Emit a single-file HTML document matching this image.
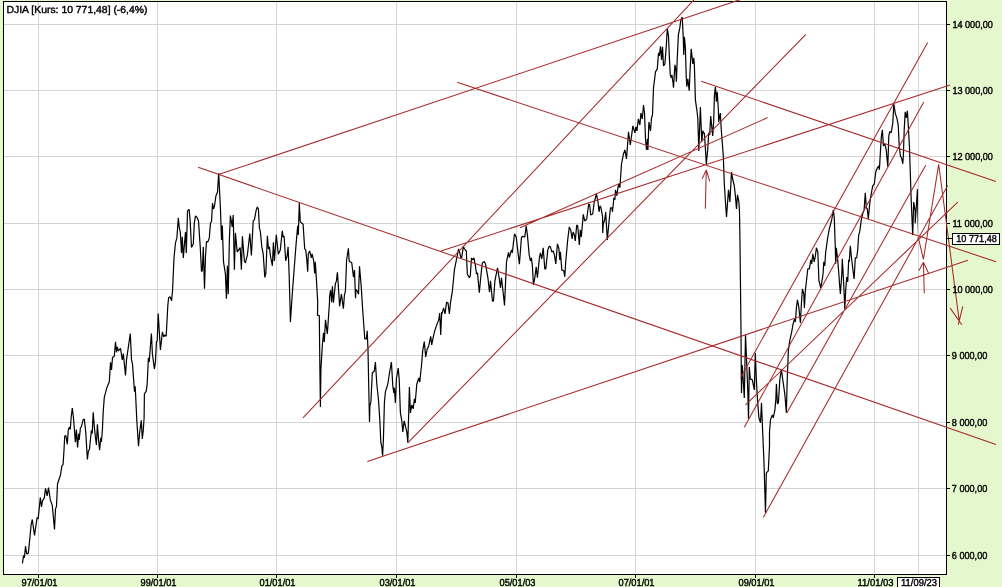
<!DOCTYPE html>
<html><head><meta charset="utf-8"><title>DJIA</title>
<style>
html,body{margin:0;padding:0;background:#e5f7cd;}
body{width:1002px;height:587px;overflow:hidden;}
svg{display:block;}
text{text-rendering:geometricPrecision;font-family:"Liberation Sans",sans-serif;font-size:10.1px;fill:#000;stroke:#000;stroke-width:0.4px;}
</style></head><body>
<svg width="1002" height="587" viewBox="0 0 1002 587">
<rect x="0" y="0" width="1002" height="587" fill="#e5f7cd"/>
<rect x="3" y="1" width="944" height="574" fill="#fff"/>
<path d="M3 24.5 H946 M3 90.5 H946 M3 156.5 H946 M3 223.5 H946 M3 289.5 H946 M3 355.5 H946 M3 422.5 H946 M3 488.5 H946 M3 555.5 H946 M38.5 1 V574 M157.5 1 V574 M276.5 1 V574 M396.5 1 V574 M516.5 1 V574 M635.5 1 V574 M755.5 1 V574 M874.5 1 V574 M918.5 1 V574" stroke="#d4d4d4" stroke-width="1" fill="none" shape-rendering="crispEdges"/>
<rect x="3.5" y="1.5" width="943" height="573" fill="none" stroke="#000" stroke-width="1" shape-rendering="crispEdges"/>
<path d="M22.4 563.4 L23.6 555.4 L24.4 557.8 L25.5 546.2 L26.7 553.8 L28.3 553.4 L29.9 537.9 L31.1 524.9 L32.3 519.5 L34.5 535.5 L35.9 525.9 L37.1 517.5 L38.1 518.9 L39.3 507.9 L40.3 497.5 L41.5 506.9 L42.5 500.9 L44.3 497.9 L45.5 488.4 L47.1 495.9 L48.5 487.6 L50.3 499.9 L52.3 505.5 L54.5 529.5 L55.5 508.9 L56.5 506.3 L57.5 484.0 L59.1 479.0 L60.5 475.0 L61.9 465.9 L63.1 464.3 L63.9 451.9 L64.7 436.3 L65.9 435.5 L67.3 444.3 L68.3 429.9 L69.5 426.9 L70.3 429.5 L71.1 418.0 L72.3 408.0 L73.5 418.0 L75.4 442.3 L76.4 429.5 L77.6 447.5 L78.6 433.9 L79.2 439.9 L80.4 427.9 L81.4 426.9 L83.2 419.4 L84.4 419.4 L85.8 432.9 L87.4 459.5 L88.4 450.9 L89.4 449.9 L91.4 430.3 L92.2 433.5 L93.2 412.4 L94.4 427.9 L95.4 436.9 L96.4 444.9 L97.4 424.4 L98.4 437.9 L99.6 450.3 L100.8 437.9 L101.4 441.9 L102.4 429.9 L103.2 412.0 L104.3 397.4 L106.9 387.4 L109.3 381.8 L110.5 362.3 L111.5 369.9 L112.5 357.5 L114.3 356.3 L115.5 341.9 L116.5 352.3 L117.3 346.9 L118.3 350.9 L120.5 348.3 L122.3 359.9 L123.3 353.5 L125.5 375.4 L126.5 359.9 L130.3 333.5 L131.5 359.9 L132.5 363.9 L134.5 391.8 L135.2 386.2 L136.9 422.0 L138.5 446.3 L139.7 431.9 L141.3 420.4 L142.3 438.9 L143.3 429.9 L144.1 418.0 L144.4 393.8 L146.2 391.4 L147.2 383.8 L148.4 357.9 L149.2 361.9 L151.4 333.5 L152.4 353.9 L153.2 359.9 L154.4 368.9 L155.4 362.3 L156.4 341.9 L157.2 340.9 L158.2 313.6 L160.4 349.9 L162.4 331.9 L163.8 336.9 L164.8 334.9 L166.2 336.3 L167.8 306.0 L168.6 297.8 L170.0 296.8 L171.6 300.8 L172.6 289.8 L174.0 257.9 L175.5 242.9 L176.9 237.9 L178.3 217.9 L179.3 227.9 L180.3 231.9 L181.5 252.9 L182.3 236.9 L183.3 257.9 L185.5 231.9 L186.3 252.9 L187.5 211.0 L189.1 209.4 L190.1 219.9 L191.5 247.5 L193.3 243.9 L194.3 222.9 L195.5 215.9 L197.1 217.5 L198.5 220.9 L200.3 247.9 L201.5 271.4 L202.3 270.8 L203.3 246.9 L204.5 288.8 L205.5 255.9 L206.5 241.5 L207.9 241.9 L209.3 237.9 L210.5 222.9 L211.5 221.9 L212.5 203.0 L213.5 209.0 L214.5 206.0 L215.9 196.0 L217.5 192.0 L218.7 173.4 L220.5 210.0 L221.5 239.9 L222.3 225.5 L223.5 261.9 L225.4 273.8 L226.4 298.8 L227.4 265.8 L228.2 294.2 L229.4 238.9 L230.4 215.5 L232.2 226.9 L233.2 215.0 L234.4 269.8 L235.4 232.9 L237.2 251.9 L240.2 247.5 L241.4 269.8 L242.4 236.3 L244.4 260.9 L245.4 262.9 L247.4 254.9 L249.8 233.5 L251.4 255.5 L253.2 220.9 L254.4 219.9 L256.2 210.0 L257.4 207.0 L258.4 209.0 L259.4 227.9 L260.4 231.9 L261.8 246.9 L263.2 253.9 L264.8 277.4 L265.8 273.8 L267.4 235.9 L268.4 248.9 L269.4 246.9 L270.4 255.9 L272.4 265.8 L273.4 242.3 L274.4 260.9 L276.3 234.9 L278.3 254.3 L280.3 249.9 L282.3 230.9 L283.1 236.9 L284.1 236.3 L285.7 260.9 L287.1 255.9 L288.1 246.9 L289.1 273.8 L289.9 301.8 L290.4 321.9 L292.3 293.8 L294.1 269.8 L296.1 243.9 L297.7 225.9 L298.3 234.9 L299.3 203.0 L300.3 221.9 L303.1 224.3 L304.7 248.9 L305.7 249.9 L306.7 258.9 L307.7 271.8 L308.3 253.9 L309.7 250.9 L311.3 257.9 L312.1 253.9 L313.7 260.9 L314.7 273.4 L315.3 261.9 L316.3 277.8 L317.7 301.8 L317.5 315.5 L319.3 315.5 L319.9 369.8 L320.4 406.9 L320.9 369.8 L322.3 345.9 L323.5 332.9 L324.3 341.9 L325.5 319.9 L327.3 333.9 L327.9 325.9 L329.5 302.0 L329.5 297.2 L330.6 290.2 L331.6 302.2 L332.4 286.3 L333.4 302.7 L335.4 283.6 L336.4 281.1 L337.4 272.3 L338.1 282.1 L339.6 306.2 L341.4 294.2 L343.4 308.7 L344.4 295.2 L345.4 291.2 L346.6 260.0 L348.4 248.4 L349.1 260.0 L349.4 261.5 L351.7 262.5 L353.5 277.1 L354.5 270.1 L355.5 298.2 L356.0 289.6 L357.7 291.7 L358.5 294.2 L359.5 266.2 L361.2 286.1 L362.7 310.3 L364.8 338.9 L366.4 338.9 L367.2 330.9 L368.0 349.9 L368.8 389.8 L369.5 421.9 L369.9 405.9 L370.9 401.9 L372.3 373.0 L374.3 371.0 L375.4 362.0 L376.8 384.0 L378.4 398.9 L379.8 419.9 L380.8 441.8 L381.8 446.8 L382.6 455.8 L383.4 439.8 L384.4 402.9 L385.4 391.9 L387.8 384.0 L389.8 371.0 L391.4 362.0 L392.8 385.9 L393.8 392.9 L394.4 387.9 L395.4 402.9 L396.4 379.0 L398.2 368.0 L399.2 379.0 L400.4 412.9 L401.8 420.9 L402.8 431.9 L404.2 420.9 L405.4 425.9 L406.8 431.9 L407.8 442.8 L408.8 409.9 L409.4 386.9 L410.4 412.9 L411.8 404.9 L413.2 408.9 L414.4 398.9 L415.2 402.9 L416.8 384.0 L418.8 378.0 L419.8 382.0 L421.2 368.0 L421.3 367.8 L422.7 350.9 L424.3 341.5 L425.7 356.9 L427.1 349.5 L428.7 345.9 L430.7 336.3 L431.7 344.9 L433.3 336.9 L434.7 330.9 L437.1 323.9 L438.7 319.9 L439.7 313.0 L440.7 334.9 L441.7 312.0 L441.6 314.8 L443.6 307.8 L445.0 313.8 L446.6 302.2 L448.0 302.8 L449.4 313.8 L450.6 301.8 L452.4 290.8 L454.4 269.9 L456.4 259.9 L458.6 248.9 L459.6 252.3 L460.6 256.9 L461.6 257.9 L463.4 246.3 L464.4 248.9 L466.3 250.9 L467.3 273.9 L469.3 277.8 L470.3 275.8 L471.5 257.9 L472.5 259.9 L473.9 257.9 L475.3 264.9 L476.5 273.9 L477.5 272.9 L479.3 292.8 L480.9 275.8 L482.3 262.9 L484.3 261.5 L485.5 263.9 L487.9 277.8 L489.5 292.2 L490.5 280.8 L492.5 301.4 L493.5 300.8 L494.9 280.8 L497.5 267.9 L499.3 278.8 L500.5 287.8 L501.5 277.8 L503.5 295.8 L504.5 305.4 L505.5 283.8 L506.5 261.9 L508.5 252.3 L509.3 257.5 L511.5 249.9 L512.3 252.9 L514.5 233.9 L516.2 236.9 L517.8 250.9 L519.4 264.3 L521.4 237.9 L522.4 236.3 L524.8 236.9 L526.2 225.9 L527.4 234.9 L529.2 254.9 L530.4 260.9 L531.4 257.9 L532.4 265.9 L533.4 284.8 L534.8 277.8 L536.2 266.9 L537.4 277.8 L539.4 257.9 L540.4 252.9 L541.8 258.9 L543.2 247.9 L544.8 268.9 L545.8 268.9 L547.8 249.9 L549.2 246.3 L550.4 246.9 L551.8 251.9 L553.2 250.9 L554.4 254.9 L555.8 263.9 L557.4 243.9 L558.8 247.9 L559.8 259.9 L560.4 251.9 L561.8 269.9 L563.8 270.9 L564.8 276.8 L565.7 261.9 L567.7 239.9 L569.3 226.9 L570.7 229.9 L572.1 238.9 L573.1 231.9 L574.1 233.9 L575.3 240.9 L576.7 225.0 L577.7 225.9 L579.3 244.9 L580.3 229.9 L581.3 236.9 L583.3 214.4 L584.7 221.0 L586.7 219.0 L588.7 204.0 L589.7 205.0 L590.7 215.0 L592.7 214.0 L594.1 203.0 L596.4 193.8 L598.0 201.8 L599.0 211.8 L600.0 205.8 L601.0 207.8 L602.6 217.0 L602.7 232.9 L603.3 224.0 L604.7 220.0 L605.7 212.0 L607.3 239.9 L609.5 217.0 L610.5 207.8 L611.9 207.8 L612.5 211.8 L613.9 197.8 L614.9 199.8 L615.5 189.8 L616.9 195.8 L617.9 187.8 L618.9 183.8 L619.9 187.8 L621.5 163.9 L623.5 153.9 L624.9 149.9 L626.5 158.9 L628.5 131.9 L630.3 144.9 L632.9 125.9 L634.9 132.9 L635.9 126.9 L636.9 130.9 L638.3 119.0 L639.9 125.0 L640.9 113.0 L642.3 119.0 L643.5 105.0 L644.5 113.0 L645.5 138.9 L646.5 149.9 L647.5 138.9 L647.9 149.9 L648.9 122.0 L650.5 130.9 L651.5 118.0 L652.5 115.0 L653.5 87.8 L655.5 71.9 L657.3 68.9 L658.5 52.9 L659.3 55.9 L660.5 46.3 L661.5 59.9 L662.5 46.9 L663.5 65.9 L664.9 63.9 L666.3 45.9 L667.3 28.9 L668.5 35.9 L669.5 59.9 L670.3 74.9 L671.3 77.8 L671.9 74.9 L672.9 81.8 L673.5 87.8 L674.9 64.9 L675.8 68.9 L676.4 81.8 L677.2 59.9 L678.4 34.9 L679.8 27.9 L680.8 20.0 L682.2 17.0 L683.2 35.9 L683.8 54.9 L684.4 36.9 L685.4 47.9 L686.2 75.8 L686.8 86.8 L687.8 78.8 L689.2 90.8 L690.2 67.9 L691.2 48.9 L692.4 59.9 L692.8 63.9 L693.8 57.9 L694.4 65.9 L695.4 99.8 L696.8 109.8 L697.8 118.0 L698.8 150.9 L700.4 107.0 L701.8 141.9 L702.8 130.9 L704.4 133.9 L705.3 146.9 L706.3 163.9 L707.7 149.9 L708.7 132.9 L709.7 134.9 L710.7 116.0 L711.7 125.9 L712.7 135.9 L713.7 121.0 L714.4 95.8 L715.4 86.8 L716.4 101.8 L717.2 91.8 L718.4 109.8 L718.7 122.0 L720.3 113.0 L721.3 129.9 L722.3 142.9 L723.3 155.9 L724.3 183.8 L725.3 199.8 L726.5 216.9 L728.5 189.9 L729.9 201.9 L731.5 172.0 L732.9 180.0 L734.3 185.9 L735.3 194.9 L736.5 208.9 L737.5 194.9 L738.9 201.9 L739.5 211.9 L739.9 235.8 L741.0 329.9 L741.3 375.9 L741.5 392.9 L742.3 365.0 L744.3 397.9 L745.5 334.9 L746.5 358.0 L747.9 393.9 L748.5 418.8 L749.3 366.9 L750.3 378.9 L752.3 379.9 L754.3 389.9 L755.3 353.0 L756.5 381.9 L757.5 399.9 L758.9 417.8 L760.5 422.8 L761.5 402.9 L762.5 427.8 L763.9 459.9 L765.5 512.8 L766.3 472.9 L768.3 470.9 L769.5 445.9 L769.5 431.8 L770.5 419.8 L772.3 414.9 L773.3 417.8 L774.9 409.9 L775.8 399.9 L776.4 383.9 L777.4 403.9 L778.4 402.9 L779.8 379.9 L781.4 369.5 L782.8 379.9 L784.8 393.9 L786.4 412.9 L787.2 379.9 L788.4 350.0 L789.9 339.9 L791.5 332.9 L792.9 324.9 L794.5 318.9 L795.4 321.9 L796.4 307.9 L797.4 299.9 L798.8 306.9 L800.4 322.9 L801.4 303.9 L802.4 289.0 L803.8 294.0 L804.4 307.9 L805.4 290.0 L806.8 278.0 L807.8 268.8 L809.4 268.8 L810.8 259.8 L811.8 263.8 L812.8 253.8 L814.2 261.8 L815.4 255.8 L816.4 247.8 L817.8 251.8 L818.8 277.0 L818.8 280.0 L820.8 288.0 L822.8 276.0 L823.2 271.8 L823.8 261.8 L824.8 265.8 L825.7 251.8 L827.7 237.8 L829.3 228.9 L831.7 219.9 L833.3 209.9 L834.3 217.9 L835.3 247.8 L835.7 263.8 L836.3 247.8 L837.7 259.8 L839.1 277.0 L839.2 280.0 L840.4 294.0 L841.8 274.0 L842.3 258.8 L843.8 286.0 L844.8 308.9 L845.7 290.0 L846.7 277.0 L847.7 282.0 L848.7 259.8 L849.3 261.8 L850.3 245.8 L851.7 259.8 L854.1 279.0 L855.3 257.8 L856.7 257.8 L857.7 249.8 L858.7 234.9 L859.7 231.9 L861.3 219.9 L862.7 213.9 L864.1 209.9 L865.3 192.9 L866.3 207.9 L867.3 208.9 L868.3 218.9 L869.7 203.9 L870.7 196.9 L872.7 185.9 L874.3 184.0 L875.8 171.8 L877.4 167.8 L878.8 165.8 L879.4 169.8 L880.4 151.8 L881.4 135.9 L882.4 129.9 L883.4 145.8 L884.8 143.9 L886.2 149.8 L887.8 166.8 L888.8 135.9 L889.8 131.5 L891.2 132.9 L892.8 122.9 L893.8 103.9 L895.4 113.9 L896.8 117.9 L898.2 124.9 L899.2 145.8 L900.4 155.8 L901.8 158.8 L902.8 163.8 L903.4 154.8 L904.2 129.9 L905.2 111.9 L906.4 117.9 L907.4 110.9 L908.4 127.9 L909.4 145.8 L910.2 169.8 L911.2 200.1 L912.7 235.3 L913.7 202.1 L915.2 211.1 L915.2 223.2 L917.5 189.0 L917.8 211.1 L918.6 237.3" fill="none" stroke="#000" stroke-width="1.2" stroke-linejoin="bevel"/>
<path d="M918.5 2 V574" stroke="#d4d4d4" stroke-width="1" fill="none" shape-rendering="crispEdges"/>
<path d="M198.1 167.3 L996 444.4 M219.2 174.3 L745 -2.0 M457.2 82.3 L995.9 261.7 M701.2 81.2 L995.9 181.4 M303 417.9 L695.7 -2.0 M407.8 442.8 L805.9 34.3 M367.3 461.4 L968 260.3 M520 227.7 L767.6 117.6 M441 251 L950.1 85 M740.6 377.7 L927.7 42.4 M744.3 427.3 L923.8 102 M786.8 412.9 L925.7 165.2 M763.3 517.4 L947.7 185.6 M745.5 404.9 L957.8 202.1 M705.3 208.8 L706.3 169.9 M706.3 169.9 L702.2 178.8 M706.3 169.9 L709.7 181.4 M924.3 293.6 L923.4 262.3 M923.4 262.3 L918.9 270.7 M923.4 262.3 L928.5 273 M918.2 237 L923.4 259.3 M923.4 259.3 L938.7 164.3 M938.7 164.3 L959.3 321.5 M950.2 308.1 L961.8 324.7 M962.8 306.3 L958.3 324.7" fill="none" stroke="#a82828" stroke-width="1.05"/>
<path d="M947 24.5 H950 M947 90.5 H950 M947 156.5 H950 M947 223.5 H950 M947 289.5 H950 M947 355.5 H950 M947 422.5 H950 M947 488.5 H950 M947 555.5 H950 M38.5 575 V578 M157.5 575 V578 M276.5 575 V578 M396.5 575 V578 M516.5 575 V578 M635.5 575 V578 M755.5 575 V578 M874.5 575 V578 M947 238.5 H952" stroke="#000" stroke-width="1" fill="none" shape-rendering="crispEdges"/>
<text x="952.4" y="28" textLength="40.5" lengthAdjust="spacingAndGlyphs">14 000,00</text>
<text x="952.4" y="94" textLength="40.5" lengthAdjust="spacingAndGlyphs">13 000,00</text>
<text x="952.4" y="160" textLength="40.5" lengthAdjust="spacingAndGlyphs">12 000,00</text>
<text x="952.4" y="227" textLength="40.5" lengthAdjust="spacingAndGlyphs">11 000,00</text>
<text x="952.4" y="293" textLength="40.5" lengthAdjust="spacingAndGlyphs">10 000,00</text>
<text x="951.8" y="359" textLength="35.5" lengthAdjust="spacingAndGlyphs">9 000,00</text>
<text x="951.8" y="426" textLength="35.5" lengthAdjust="spacingAndGlyphs">8 000,00</text>
<text x="951.8" y="492" textLength="35.5" lengthAdjust="spacingAndGlyphs">7 000,00</text>
<text x="951.8" y="559" textLength="35.5" lengthAdjust="spacingAndGlyphs">6 000,00</text>
<text x="21.5" y="586" textLength="36" lengthAdjust="spacingAndGlyphs">97/01/01</text>
<text x="140.5" y="586" textLength="36" lengthAdjust="spacingAndGlyphs">99/01/01</text>
<text x="259.5" y="586" textLength="36" lengthAdjust="spacingAndGlyphs">01/01/01</text>
<text x="379.5" y="586" textLength="36" lengthAdjust="spacingAndGlyphs">03/01/01</text>
<text x="499.5" y="586" textLength="36" lengthAdjust="spacingAndGlyphs">05/01/03</text>
<text x="618.5" y="586" textLength="36" lengthAdjust="spacingAndGlyphs">07/01/01</text>
<text x="738.5" y="586" textLength="36" lengthAdjust="spacingAndGlyphs">09/01/01</text>
<text x="857.5" y="586" textLength="36" lengthAdjust="spacingAndGlyphs">11/01/03</text>
<rect x="952.5" y="233.5" width="47" height="11" fill="#fff" stroke="#000" stroke-width="1" shape-rendering="crispEdges"/>
<text x="956.3" y="241.5" textLength="40.5" lengthAdjust="spacingAndGlyphs">10 771,48</text>
<rect x="897.5" y="577.5" width="42" height="12" fill="#fff" stroke="#000" stroke-width="1" shape-rendering="crispEdges"/>
<text x="901" y="586" textLength="36" lengthAdjust="spacingAndGlyphs">11/09/23</text>
<text x="6.5" y="13" textLength="141" lengthAdjust="spacingAndGlyphs">DJIA [Kurs: 10 771,48] (-6,4%)</text>
</svg>
</body></html>
